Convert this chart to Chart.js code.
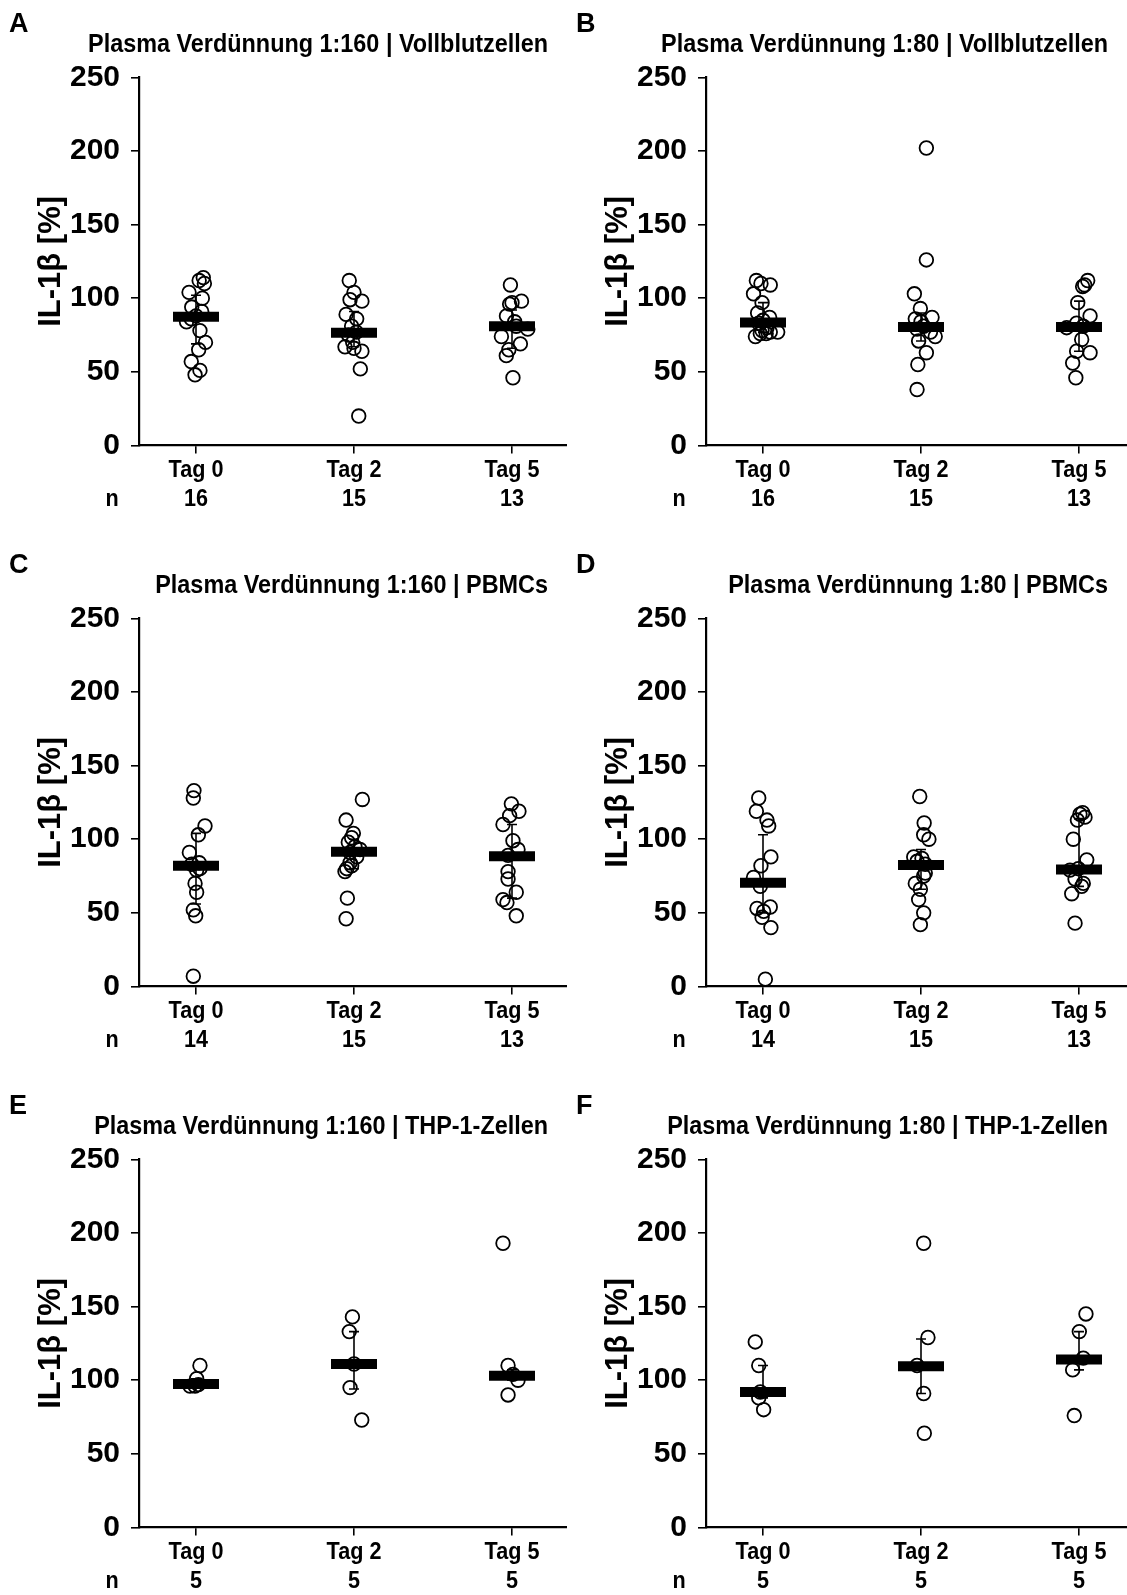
<!DOCTYPE html>
<html>
<head>
<meta charset="utf-8">
<script src="https://cdn.jsdelivr.net/npm/chart.js@4.4.1/dist/chart.umd.min.js"></script>
<style>
html,body{margin:0;padding:0;background:#fff;}
body{width:1127px;height:1595px;position:relative;overflow:hidden;}
canvas{position:absolute;display:block;}
</style>
</head>
<body>
<canvas id="cA" width="567" height="541" style="left:0px;top:0px;width:567px;height:541px"></canvas>
<canvas id="cB" width="560" height="541" style="left:567px;top:0px;width:560px;height:541px"></canvas>
<canvas id="cC" width="567" height="541" style="left:0px;top:541px;width:567px;height:541px"></canvas>
<canvas id="cD" width="560" height="541" style="left:567px;top:541px;width:560px;height:541px"></canvas>
<canvas id="cE" width="567" height="541" style="left:0px;top:1082px;width:567px;height:541px"></canvas>
<canvas id="cF" width="560" height="541" style="left:567px;top:1082px;width:560px;height:541px"></canvas>
<script>
// ---------- data ----------
const categories = ["Tag 0", "Tag 2", "Tag 5"];
const yTicks = [0, 50, 100, 150, 200, 250];
const yTitle = "IL-1β [%]";

const titleA = "Plasma Verdünnung 1:160 | Vollblutzellen";
const titleB = "Plasma Verdünnung 1:80 | Vollblutzellen";
const titleC = "Plasma Verdünnung 1:160 | PBMCs";
const titleD = "Plasma Verdünnung 1:80 | PBMCs";
const titleE = "Plasma Verdünnung 1:160 | THP-1-Zellen";
const titleF = "Plasma Verdünnung 1:80 | THP-1-Zellen";

const nA = [16, 15, 13];
const nB = [16, 15, 13];
const nC = [14, 15, 13];
const nD = [14, 15, 13];
const nE = [5, 5, 5];
const nF = [5, 5, 5];

// individual values (IL-1β %)
const A_tag0 = [114, 112, 110, 104, 100, 94, 91, 88, 86, 84, 78, 70, 65, 57, 51, 48];
const A_tag2 = [112, 104, 99, 98, 89, 86, 81, 77, 75, 70, 67, 66, 64, 52, 20];
const A_tag5 = [109, 98, 97, 96, 88, 84, 81, 79, 74, 69, 65, 61, 46];
const B_tag0 = [112, 110, 109, 103, 97, 90, 87, 85, 83, 80, 78, 77, 77, 76, 76, 74];
const B_tag2 = [202, 126, 103, 93, 87, 86, 84, 81, 79, 77, 74, 71, 63, 55, 38];
const B_tag5 = [112, 109, 108, 97, 88, 83, 81, 80, 72, 64, 63, 56, 46];
const C_tag0 = [133, 128, 109, 103, 91, 84, 83, 80, 79, 70, 64, 52, 48, 7];
const C_tag2 = [127, 113, 104, 101, 98, 95, 93, 91, 88, 84, 82, 80, 78, 60, 46];
const C_tag5 = [124, 119, 116, 110, 99, 93, 89, 78, 73, 64, 59, 57, 48];
const D_tag0 = [128, 119, 113, 109, 88, 82, 74, 68, 54, 53, 51, 47, 40, 5];
const D_tag2 = [129, 111, 103, 100, 88, 87, 85, 83, 77, 75, 70, 66, 59, 50, 42];
const D_tag5 = [118, 117, 115, 113, 100, 86, 80, 79, 73, 70, 68, 63, 43];
const E_tag0 = [110, 101, 97, 96, 96];
const E_tag2 = [143, 133, 111, 95, 73];
const E_tag5 = [193, 110, 104, 100, 90];
const F_tag0 = [126, 110, 92, 88, 80];
const F_tag2 = [193, 129, 110, 91, 64];
const F_tag5 = [145, 133, 115, 107, 76];

// horizontal scatter offsets of each point (category units)
const A_jit0 = [0.046, 0.02, 0.053, -0.044, 0.04, -0.027, 0.036, 0, -0.03, -0.06, 0.025, 0.06, 0.017, -0.03, 0.025, -0.006];
const A_jit2 = [-0.03, 0, -0.025, 0.05, -0.05, 0.017, -0.015, 0.015, -0.035, -0.008, -0.057, 0, 0.05, 0.04, 0.03];
const A_jit5 = [-0.01, 0.06, 0, -0.015, -0.035, 0.017, 0.027, 0.1, -0.067, 0.053, -0.02, -0.036, 0.006];
const B_jit0 = [-0.042, -0.013, 0.046, -0.06, -0.006, -0.034, 0.042, 0, -0.027, 0.025, -0.006, 0.046, 0.093, 0.02, -0.017, -0.048];
const B_jit2 = [0.034, 0.034, -0.042, -0.004, 0.07, -0.036, 0, 0.017, -0.025, 0.06, 0.09, -0.015, 0.034, -0.02, -0.025];
const B_jit5 = [0.055, 0.036, 0.023, -0.008, 0.07, -0.015, 0.027, -0.078, 0.017, -0.015, 0.07, -0.04, -0.02];
const C_jit0 = [-0.013, -0.017, 0.057, 0.015, -0.042, 0.02, -0.027, 0.025, 0.004, -0.006, 0.004, -0.017, -0.002, -0.017];
const C_jit2 = [0.053, -0.05, -0.004, -0.015, -0.036, 0.006, 0.038, -0.025, 0.017, -0.025, -0.015, -0.046, -0.057, -0.042, -0.05];
const C_jit5 = [-0.004, 0.044, -0.015, -0.057, 0.006, 0.038, -0.025, -0.025, -0.025, 0.027, -0.057, -0.032, 0.027];
const D_jit0 = [-0.027, -0.042, 0.025, 0.036, 0.05, -0.013, -0.06, -0.017, 0.046, -0.038, 0.004, -0.006, 0.05, 0.015];
const D_jit2 = [-0.008, 0.02, 0.017, 0.05, -0.046, 0.006, -0.025, 0.027, 0.027, 0.017, -0.036, -0.004, -0.015, 0.017, -0.004];
const D_jit5 = [0.023, 0.006, 0.038, -0.01, -0.036, 0.049, -0.004, -0.057, -0.025, 0.027, 0.017, -0.046, -0.025];
const E_jit0 = [0.025, 0.004, 0.015, -0.038, -0.006];
const E_jit2 = [-0.01, -0.03, 0, -0.025, 0.049];
const E_jit5 = [-0.057, -0.025, 0.006, 0.038, -0.025];
const F_jit0 = [-0.049, -0.027, -0.017, -0.027, 0.004];
const F_jit2 = [0.017, 0.044, -0.025, 0.017, 0.021];
const F_jit5 = [0.044, 0.002, 0.027, -0.04, -0.03];

// median and error-bar range per day
const A_median = [87.5, 76.5, 81];   const A_low = [69, 67, 66];   const A_high = [102, 91, 92];
const B_median = [83.5, 80.5, 80.5]; const B_low = [77, 71, 64];   const B_high = [97, 90, 98];
const C_median = [82, 91.5, 88.5];   const C_low = [56, 80, 60];   const C_high = [104, 100, 110];
const D_median = [70.5, 82.5, 79.5]; const D_low = [50, 66, 68];   const D_high = [103, 93, 114];
const E_median = [97.5, 111, 103];   const E_low = [96, 94, 100];  const E_high = [101, 133, 107];
const F_median = [92, 109.5, 114];   const F_low = [88, 91, 107];  const F_high = [110, 128, 133];

// ---------- drawing ----------
const SANS = "'Liberation Sans', Arial, sans-serif";
const CONDENSE = 0.9;       // horizontal squeeze for the narrow-style texts
const AXIS_LEFT = 139;      // px from panel left to y axis
const CAT_SPACING = 158;    // px per category
const FIRST_CAT = 57;       // px from y axis to first category
const X_AXIS_HEIGHT = 95.5;
const PLOT_TOP = 77.3;

function narrowText(ctx, text, x, y, align, size) {
  ctx.save();
  ctx.translate(x, y);
  ctx.scale(CONDENSE, 1);
  ctx.textAlign = align;
  ctx.font = 'bold ' + size + 'px ' + SANS;
  ctx.fillText(text, 0, 0);
  ctx.restore();
}

const annotPlugin = {
  id: 'annot',
  afterDraw(chart, args, opts) {
    const ctx = chart.ctx;
    const area = chart.chartArea;
    const xs = chart.scales.x;
    ctx.save();
    ctx.fillStyle = '#000';
    ctx.textBaseline = 'alphabetic';
    ctx.textAlign = 'left';
    ctx.font = 'bold 27px ' + SANS;
    ctx.fillText(opts.letter, 9, 32);
    narrowText(ctx, opts.title, opts.titleRight, 52, 'right', 26);
    ctx.textBaseline = 'middle';
    const y1 = area.bottom + 25;
    const y2 = y1 + 28.5;
    categories.forEach((c, i) => {
      const px = xs.getPixelForValue(i);
      narrowText(ctx, c, px, y1, 'center', 24);
      narrowText(ctx, String(opts.n[i]), px, y2, 'center', 24);
    });
    narrowText(ctx, 'n', 112, y2, 'center', 24);
    ctx.restore();
  }
};

function makePanel(id, p) {
  const canvas = document.getElementById(id);
  const W = canvas.width;
  const xMin = -FIRST_CAT / CAT_SPACING;
  const xMax = xMin + (W - AXIS_LEFT) / CAT_SPACING;
  const datasets = [];
  datasets.push({
    data: p.median.map((m, i) => ({ x: i, y: m })),
    pointStyle: 'line', pointRadius: 23, pointBorderWidth: 10,
    pointBorderColor: '#000', borderColor: '#000', showLine: false, order: 0
  });
  p.low.forEach((lo, i) => {
    datasets.push({
      data: [{ x: i, y: lo }, { x: i, y: p.high[i] }],
      showLine: true, borderColor: '#000', borderWidth: 1.6,
      pointStyle: 'line', pointRadius: 5, pointBorderWidth: 1.6,
      pointBorderColor: '#000', order: 1
    });
  });
  p.values.forEach((vals, i) => {
    datasets.push({
      data: vals.map((v, k) => ({ x: i + p.jitter[i][k], y: v })),
      showLine: false, pointStyle: 'circle', pointRadius: 6.8,
      pointBorderWidth: 1.8, pointBorderColor: '#000', borderColor: '#000',
      pointBackgroundColor: 'rgba(255,255,255,0)', backgroundColor: 'rgba(255,255,255,0)',
      order: 2
    });
  });
  new Chart(canvas, {
    type: 'scatter',
    data: { datasets },
    options: {
      responsive: false, animation: false, devicePixelRatio: 1, events: [],
      layout: { autoPadding: false, padding: { top: PLOT_TOP, left: 0, right: 0, bottom: 0 } },
      plugins: {
        legend: { display: false }, tooltip: { enabled: false }, title: { display: false },
        annot: { letter: p.letter, title: p.title, titleRight: p.titleRight, n: p.n }
      },
      scales: {
        x: {
          type: 'linear', min: xMin, max: xMax,
          afterBuildTicks: s => { s.ticks = categories.map((c, i) => ({ value: i })); },
          afterFit: s => { s.height = X_AXIS_HEIGHT; s.paddingLeft = 0; s.paddingRight = 0; },
          ticks: { display: false },
          grid: { drawOnChartArea: false, drawTicks: true, tickLength: 8, color: '#000', lineWidth: 1.6 },
          border: { display: true, color: '#000', width: 2.2 }
        },
        y: {
          type: 'linear', min: 0, max: 250,
          afterBuildTicks: s => { s.ticks = yTicks.map(v => ({ value: v })); },
          afterFit: s => { s.width = AXIS_LEFT; },
          ticks: { padding: 11, color: '#000', font: { family: SANS, weight: 'bold', size: 30 } },
          grid: { drawOnChartArea: false, drawTicks: true, tickLength: 8, color: '#000', lineWidth: 1.6 },
          border: { display: true, color: '#000', width: 2.2 },
          title: {
            display: true, text: yTitle, color: '#000',
            font: { family: SANS, weight: 'bold', size: 31, lineHeight: 1.2 },
            padding: { top: 33, bottom: 0 }
          }
        }
      }
    },
    plugins: [annotPlugin]
  });
}

makePanel('cA', { letter: 'A', title: titleA, titleRight: 548, n: nA, values: [A_tag0, A_tag2, A_tag5], jitter: [A_jit0, A_jit2, A_jit5], median: A_median, low: A_low, high: A_high });
makePanel('cB', { letter: 'B', title: titleB, titleRight: 541, n: nB, values: [B_tag0, B_tag2, B_tag5], jitter: [B_jit0, B_jit2, B_jit5], median: B_median, low: B_low, high: B_high });
makePanel('cC', { letter: 'C', title: titleC, titleRight: 548, n: nC, values: [C_tag0, C_tag2, C_tag5], jitter: [C_jit0, C_jit2, C_jit5], median: C_median, low: C_low, high: C_high });
makePanel('cD', { letter: 'D', title: titleD, titleRight: 541, n: nD, values: [D_tag0, D_tag2, D_tag5], jitter: [D_jit0, D_jit2, D_jit5], median: D_median, low: D_low, high: D_high });
makePanel('cE', { letter: 'E', title: titleE, titleRight: 548, n: nE, values: [E_tag0, E_tag2, E_tag5], jitter: [E_jit0, E_jit2, E_jit5], median: E_median, low: E_low, high: E_high });
makePanel('cF', { letter: 'F', title: titleF, titleRight: 541, n: nF, values: [F_tag0, F_tag2, F_tag5], jitter: [F_jit0, F_jit2, F_jit5], median: F_median, low: F_low, high: F_high });
</script>
</body>
</html>
